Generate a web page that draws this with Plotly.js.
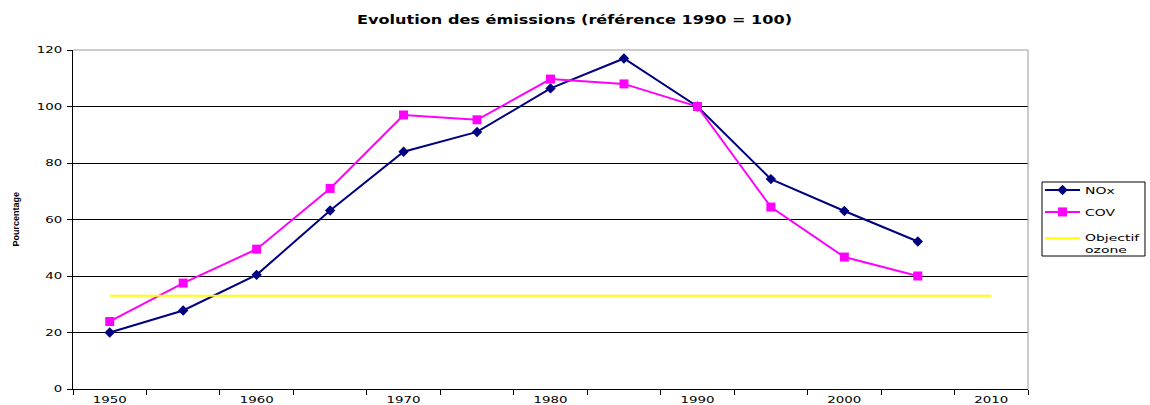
<!DOCTYPE html>
<html>
<head>
<meta charset="utf-8">
<script src="https://cdn.plot.ly/plotly-3.0.1.min.js"></script>
<style>body{margin:0;background:#fff}#chart{width:1150px;height:405px}</style>
</head>
<body>
<div id="chart"></div>
<script>
const years = [1950, 1955, 1960, 1965, 1970, 1975, 1980, 1985, 1990, 1995, 2000, 2005];
const nox = [20, 27.8, 40.4, 63.2, 84, 91, 106.4, 117, 100, 74.3, 63, 52.2];
const cov = [23.9, 37.5, 49.5, 71, 97, 95.3, 109.7, 108, 100, 64.4, 46.7, 40];
const ozoneYears = [1950, 1955, 1960, 1965, 1970, 1975, 1980, 1985, 1990, 1995, 2000, 2005, 2010];
const ozone = [33, 33, 33, 33, 33, 33, 33, 33, 33, 33, 33, 33, 33];
const xTickVals = [1950, 1960, 1970, 1980, 1990, 2000, 2010];
const xTickText = ['1950', '1960', '1970', '1980', '1990', '2000', '2010'];
const yTickVals = [0, 20, 40, 60, 80, 100, 120];

const font = 'DejaVu Sans, Arial, sans-serif';
const traces = [
  {x: years, y: nox, name: 'NOx', legendgroup: 'a', type: 'scatter', mode: 'lines+markers',
   line: {color: '#000080', width: 2}, marker: {symbol: 'diamond', size: 8, color: '#000080'}},
  {x: years, y: cov, name: 'COV', legendgroup: 'b', type: 'scatter', mode: 'lines+markers',
   line: {color: '#FF00FF', width: 2}, marker: {symbol: 'square', size: 9, color: '#FF00FF'}},
  {x: ozoneYears, y: ozone, name: 'Objectif<br>ozone', legendgroup: 'c', type: 'scatter', mode: 'lines',
   line: {color: '#FFFF00', width: 2}}
];
const layout = {
  width: 1150, height: 405,
  margin: {l: 73, r: 122, t: 50, b: 16},
  paper_bgcolor: '#fff', plot_bgcolor: '#fff',
  font: {family: font, size: 9.5, color: '#000'},
  title: {text: '<b>Evolution des émissions (référence 1990 = 100)</b>', font: {family: font, size: 12, color: '#000'},
          x: 0.4996, xanchor: 'center', y: 0.95, yanchor: 'middle'},
  xaxis: {range: [1947.5, 2012.5], tickmode: 'array', tickvals: xTickVals, ticktext: xTickText,
          ticks: '', showgrid: false, zeroline: false, showline: true, linecolor: '#000', linewidth: 1,
          mirror: false, tickfont: {size: 9}, automargin: false, ticklabelstandoff: 2,
          minor: {tickmode: 'linear', tick0: 1947.5, dtick: 5, ticks: 'outside', ticklen: 5, tickcolor: '#000', showgrid: false}},
  yaxis: {range: [0, 120], tickmode: 'array', tickvals: yTickVals, ticks: 'outside', ticklen: 5, tickcolor: '#000',
          showgrid: true, gridcolor: '#000', gridwidth: 1, zeroline: false, showline: true, linecolor: '#000', linewidth: 1,
          tickfont: {size: 9}, automargin: false, ticklabelstandoff: 3},
  annotations: [
    {text: '<b>Pourcentage</b>', xref: 'paper', yref: 'paper', x: -0.0607, y: 0.5, textangle: -90,
     showarrow: false, xanchor: 'center', yanchor: 'middle', font: {family: 'Liberation Sans Narrow, Liberation Sans, Arial', size: 9}}
  ],
  shapes: [
    {type: 'line', xref: 'paper', yref: 'paper', x0: 0, x1: 1, y0: 1, y1: 1, line: {color: '#999', width: 1}},
    {type: 'line', xref: 'paper', yref: 'paper', x0: 1, x1: 1, y0: 0, y1: 1, line: {color: '#999', width: 1}},
    {type: 'rect', xref: 'paper', yref: 'paper', x0: 1.01466, x1: 1.1225, y0: 0.3923, y1: 0.6106,
     line: {color: '#000', width: 1}, fillcolor: 'rgba(0,0,0,0)'}
  ],
  legend: {x: 1.0126, y: 0.63, xanchor: 'left', yanchor: 'top', borderwidth: 0,
           font: {size: 9.5}, bgcolor: 'rgba(0,0,0,0)', itemwidth: 35, traceorder: 'grouped', tracegroupgap: 3},
  showlegend: true
};
Plotly.newPlot('chart', traces, layout, {displayModeBar: false, staticPlot: true}).then(function (gd) {
  function stretch(el, len) {
    el.setAttribute('textLength', len);
    el.setAttribute('lengthAdjust', 'spacingAndGlyphs');
  }
  gd.querySelectorAll('.xtick text, .ytick text').forEach(function (t) {
    stretch(t, t.textContent.length * 8.5);
  });
  const title = gd.querySelector('.gtitle');
  if (title) stretch(title, 435);
  gd.querySelectorAll('.legend [clip-path]').forEach(function (e) { e.removeAttribute('clip-path'); });
  gd.querySelectorAll('.legendtext').forEach(function (t) {
    const x0 = parseFloat(t.getAttribute('x')) || 0;
    const dy = t.querySelectorAll('tspan.line').length > 1 ? 5 : 0;
    t.setAttribute('transform', 'translate(' + x0 + ',' + dy + ') scale(1.47,1) translate(' + (-x0) + ',0)');
  });
});
</script>
</body>
</html>
